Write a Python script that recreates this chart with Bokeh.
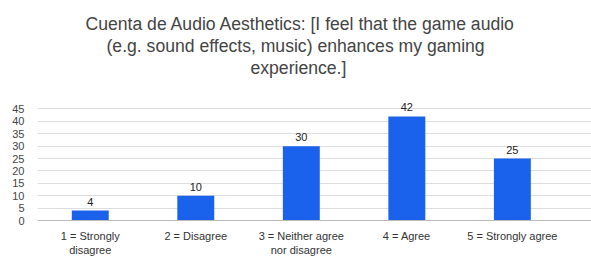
from bokeh.plotting import figure
from bokeh.models import Range1d, FixedTicker, ColumnDataSource, LabelSet, Title
from bokeh.core.properties import value
from bokeh.embed import file_html
from bokeh.resources import INLINE

categories = ["1 = Strongly\ndisagree", "2 = Disagree", "3 = Neither agree\nnor disagree", "4 = Agree", "5 = Strongly agree"]
counts = [4, 10, 30, 42, 25]
y_ticks = [0, 5, 10, 15, 20, 25, 30, 35, 40, 45]
title_lines = ["Cuenta de Audio Aesthetics: [I feel that the game audio",
               "(e.g. sound effects, music) enhances my gaming",
               "experience.]"]

positions = list(range(1, len(categories) + 1))
src = ColumnDataSource(dict(x=positions, y=counts, lbl=[str(c) for c in counts]))

FONT = "Liberation Sans"

p = figure(width=591, height=258, output_backend="svg", toolbar_location=None,
           x_range=Range1d(0.5, 5.75), y_range=Range1d(0, 48), title=None,
           min_border_left=37, min_border_right=0, min_border_bottom=0, min_border_top=0)
p.outline_line_color = None
p.background_fill_color = "white"
p.border_fill_color = "white"

p.vbar(x="x", top="y", width=0.35, source=src, color="#1a62ec", line_color=None)

labels = LabelSet(x="x", y="y", text="lbl", source=src, y_offset=5,
                  text_align="center", text_baseline="bottom",
                  text_font=value(FONT), text_font_size="11px", text_color="#222222")
p.add_layout(labels)

p.xaxis.ticker = FixedTicker(ticks=positions)
p.xaxis.major_label_overrides = {pos: cat for pos, cat in zip(positions, categories)}
p.xaxis.major_tick_line_color = None
p.xaxis.minor_tick_line_color = None
p.xaxis.axis_line_color = "#bbbbbb"
p.xaxis.axis_label = None
p.xaxis.major_label_text_font = FONT
p.xaxis.major_label_text_font_size = "11px"
p.xaxis.major_label_text_color = "#333333"
p.xaxis.major_label_standoff = 3
p.xgrid.grid_line_color = None

p.yaxis.ticker = FixedTicker(ticks=y_ticks)
p.yaxis.axis_line_color = None
p.yaxis.axis_label = None
p.yaxis.major_tick_line_color = None
p.yaxis.minor_tick_line_color = None
p.yaxis.major_label_text_font = FONT
p.yaxis.major_label_text_font_size = "11px"
p.yaxis.major_label_text_color = "#444444"
p.yaxis.major_label_standoff = 7
p.ygrid.grid_line_color = "#dddddd"

# title lines (nearest the plot first), left-aligned with pixel offsets so that they centre on the page
title_offsets = [213, 69, 48]
p.add_layout(Title(text=" ", text_font_size="19.5px", standoff=0), "above")
for line, off in zip(reversed(title_lines), title_offsets):
    t = Title(text=line, align="left", offset=off, text_font=FONT, text_font_size="17.6px",
              text_font_style="normal", text_color="#444444", standoff=0)
    p.add_layout(t, "above")
p.add_layout(Title(text=" ", text_font_size="8px", standoff=0), "above")

open("out.html", "w").write(file_html(p, INLINE))
